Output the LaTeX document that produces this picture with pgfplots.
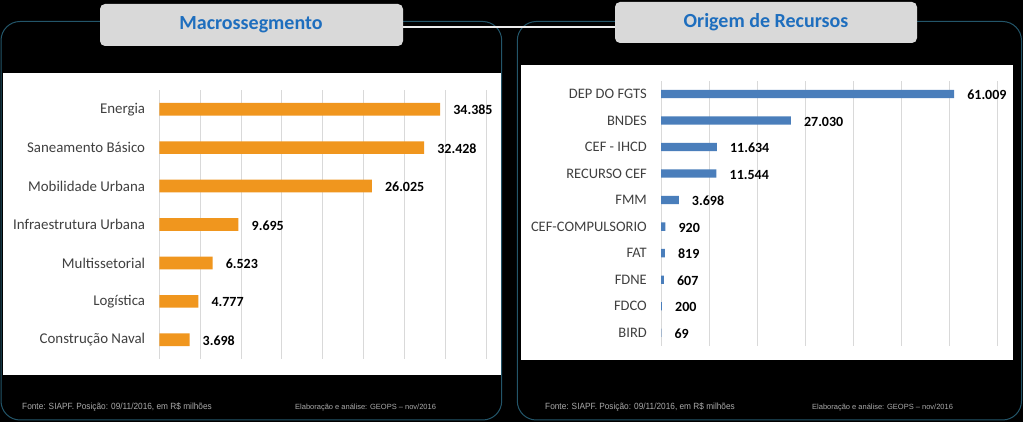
\documentclass[border=0pt]{standalone}
\usepackage{fontspec}
\usepackage{pgfplots}
\pgfplotsset{compat=1.18}
\setmainfont{Carlito}
\newfontfamily\arial{Liberation Sans}

\definecolor{barorange}{RGB}{240,150,30}
\definecolor{barblue}{RGB}{74,126,187}
\definecolor{gridgrey}{RGB}{217,217,217}
\definecolor{framecol}{RGB}{35,85,105}
\definecolor{titlegrey}{RGB}{217,217,217}
\definecolor{titleblue}{RGB}{30,110,190}
\definecolor{labelgrey}{RGB}{64,64,64}
\definecolor{footgrey}{RGB}{170,170,170}

\pgfplotsset{
  panel/.style={
    scale only axis, anchor=south west,
    xbar, axis line style={draw=none}, major tick length=0pt,
    xticklabels={}, xmin=0, scaled x ticks=false,
    xmajorgrids, grid style={draw=gridgrey, line width=0.9pt},
    yticklabel style={font=\fontsize{#1}{16}\selectfont, text=labelgrey,
      inner sep=0pt, xshift=-14pt},
    point meta=x,
    nodes near coords,
    nodes near coords style={font=\bfseries\fontsize{14}{16}\selectfont,
      text=black, anchor=west, inner sep=0pt, xshift=13pt, yshift=-1pt},
    /pgf/number format/.cd, fixed, precision=0, 1000 sep={.}, assume math mode=true,
  },
}

\begin{document}
\begin{tikzpicture}
\path[use as bounding box, fill=black] (0pt,0pt) rectangle (1023pt,422pt);

% frames, white plot areas and title boxes (pixel coordinates, y down)
\begin{scope}[x=1pt, y=-1pt, yshift=422pt]
  \draw[framecol, line width=1pt, rounded corners=19pt] (1,21.5) rectangle (501.7,420);
  \draw[framecol, line width=1pt, rounded corners=19pt] (517.3,21.5) rectangle (1021.5,420);
  \fill[white] (3,73) rectangle (500.7,375);
  \fill[white] (520.7,65) rectangle (1012.5,360.5);
  \draw[white!85!gray, line width=2pt] (403,26.7) -- (615,26.7);
  \fill[titlegrey, rounded corners=5pt] (100,4) rectangle (403,46);
  \fill[titlegrey, rounded corners=5pt] (615,2) rectangle (917,43);
  \node[text=titleblue, font=\bfseries\fontsize{20}{22}\selectfont] at (251,25) {Macrossegmento};
  \node[text=titleblue, font=\bfseries\fontsize{20}{22}\selectfont] at (766,22.5) {Origem de Recursos};
  \node[anchor=base west, inner sep=0pt, text=footgrey, font=\arial\fontsize{9}{10}\selectfont] at (22,410) {\scalebox{0.92}[1]{Fonte: SIAPF. Posição: 09/11/2016, em R\$ milhões}};
  \node[anchor=base west, inner sep=0pt, text=footgrey, font=\arial\fontsize{7.5}{9}\selectfont] at (295,410) {Elaboração e análise: GEOPS – nov/2016};
  \node[anchor=base west, inner sep=0pt, text=footgrey, font=\arial\fontsize{9}{10}\selectfont] at (545,410) {\scalebox{0.92}[1]{Fonte: SIAPF. Posição: 09/11/2016, em R\$ milhões}};
  \node[anchor=base west, inner sep=0pt, text=footgrey, font=\arial\fontsize{7.5}{9}\selectfont] at (812,410) {Elaboração e análise: GEOPS – nov/2016};
\end{scope}

% Macrossegmento
\begin{axis}[panel=14.9,
  at={(159.3pt,63pt)}, width=326.7pt, height=269pt,
  xmax=40000, xtick={0,5000,...,40000},
  ymin=-0.5, ymax=6.5, ytick={0,...,6},
  yticklabels={Construção Naval,Logística,Multissetorial,Infraestrutura Urbana,Mobilidade Urbana,Saneamento Básico,Energia},
  bar width=12.7pt]
\addplot[fill=barorange, draw=none] coordinates {
  (3698,0) (4777,1) (6523,2) (9695,3) (26025,4) (32428,5) (34385,6)
};
\end{axis}

% Origem de Recursos
\begin{axis}[panel=14.5,
  at={(661pt,76pt)}, width=336.3pt, height=265.3pt,
  xmax=70000, xtick={0,10000,...,70000},
  ymin=-0.5, ymax=9.5, ytick={0,...,9},
  yticklabels={BIRD,FDCO,FDNE,FAT,CEF-COMPULSORIO,FMM,RECURSO CEF,CEF - IHCD,BNDES,DEP DO FGTS},
  bar width=8.3pt]
\addplot[fill=barblue, draw=none] coordinates {
  (69,0) (200,1) (607,2) (819,3) (920,4) (3698,5) (11544,6) (11634,7) (27030,8) (61009,9)
};
\end{axis}
\end{tikzpicture}
\end{document}
